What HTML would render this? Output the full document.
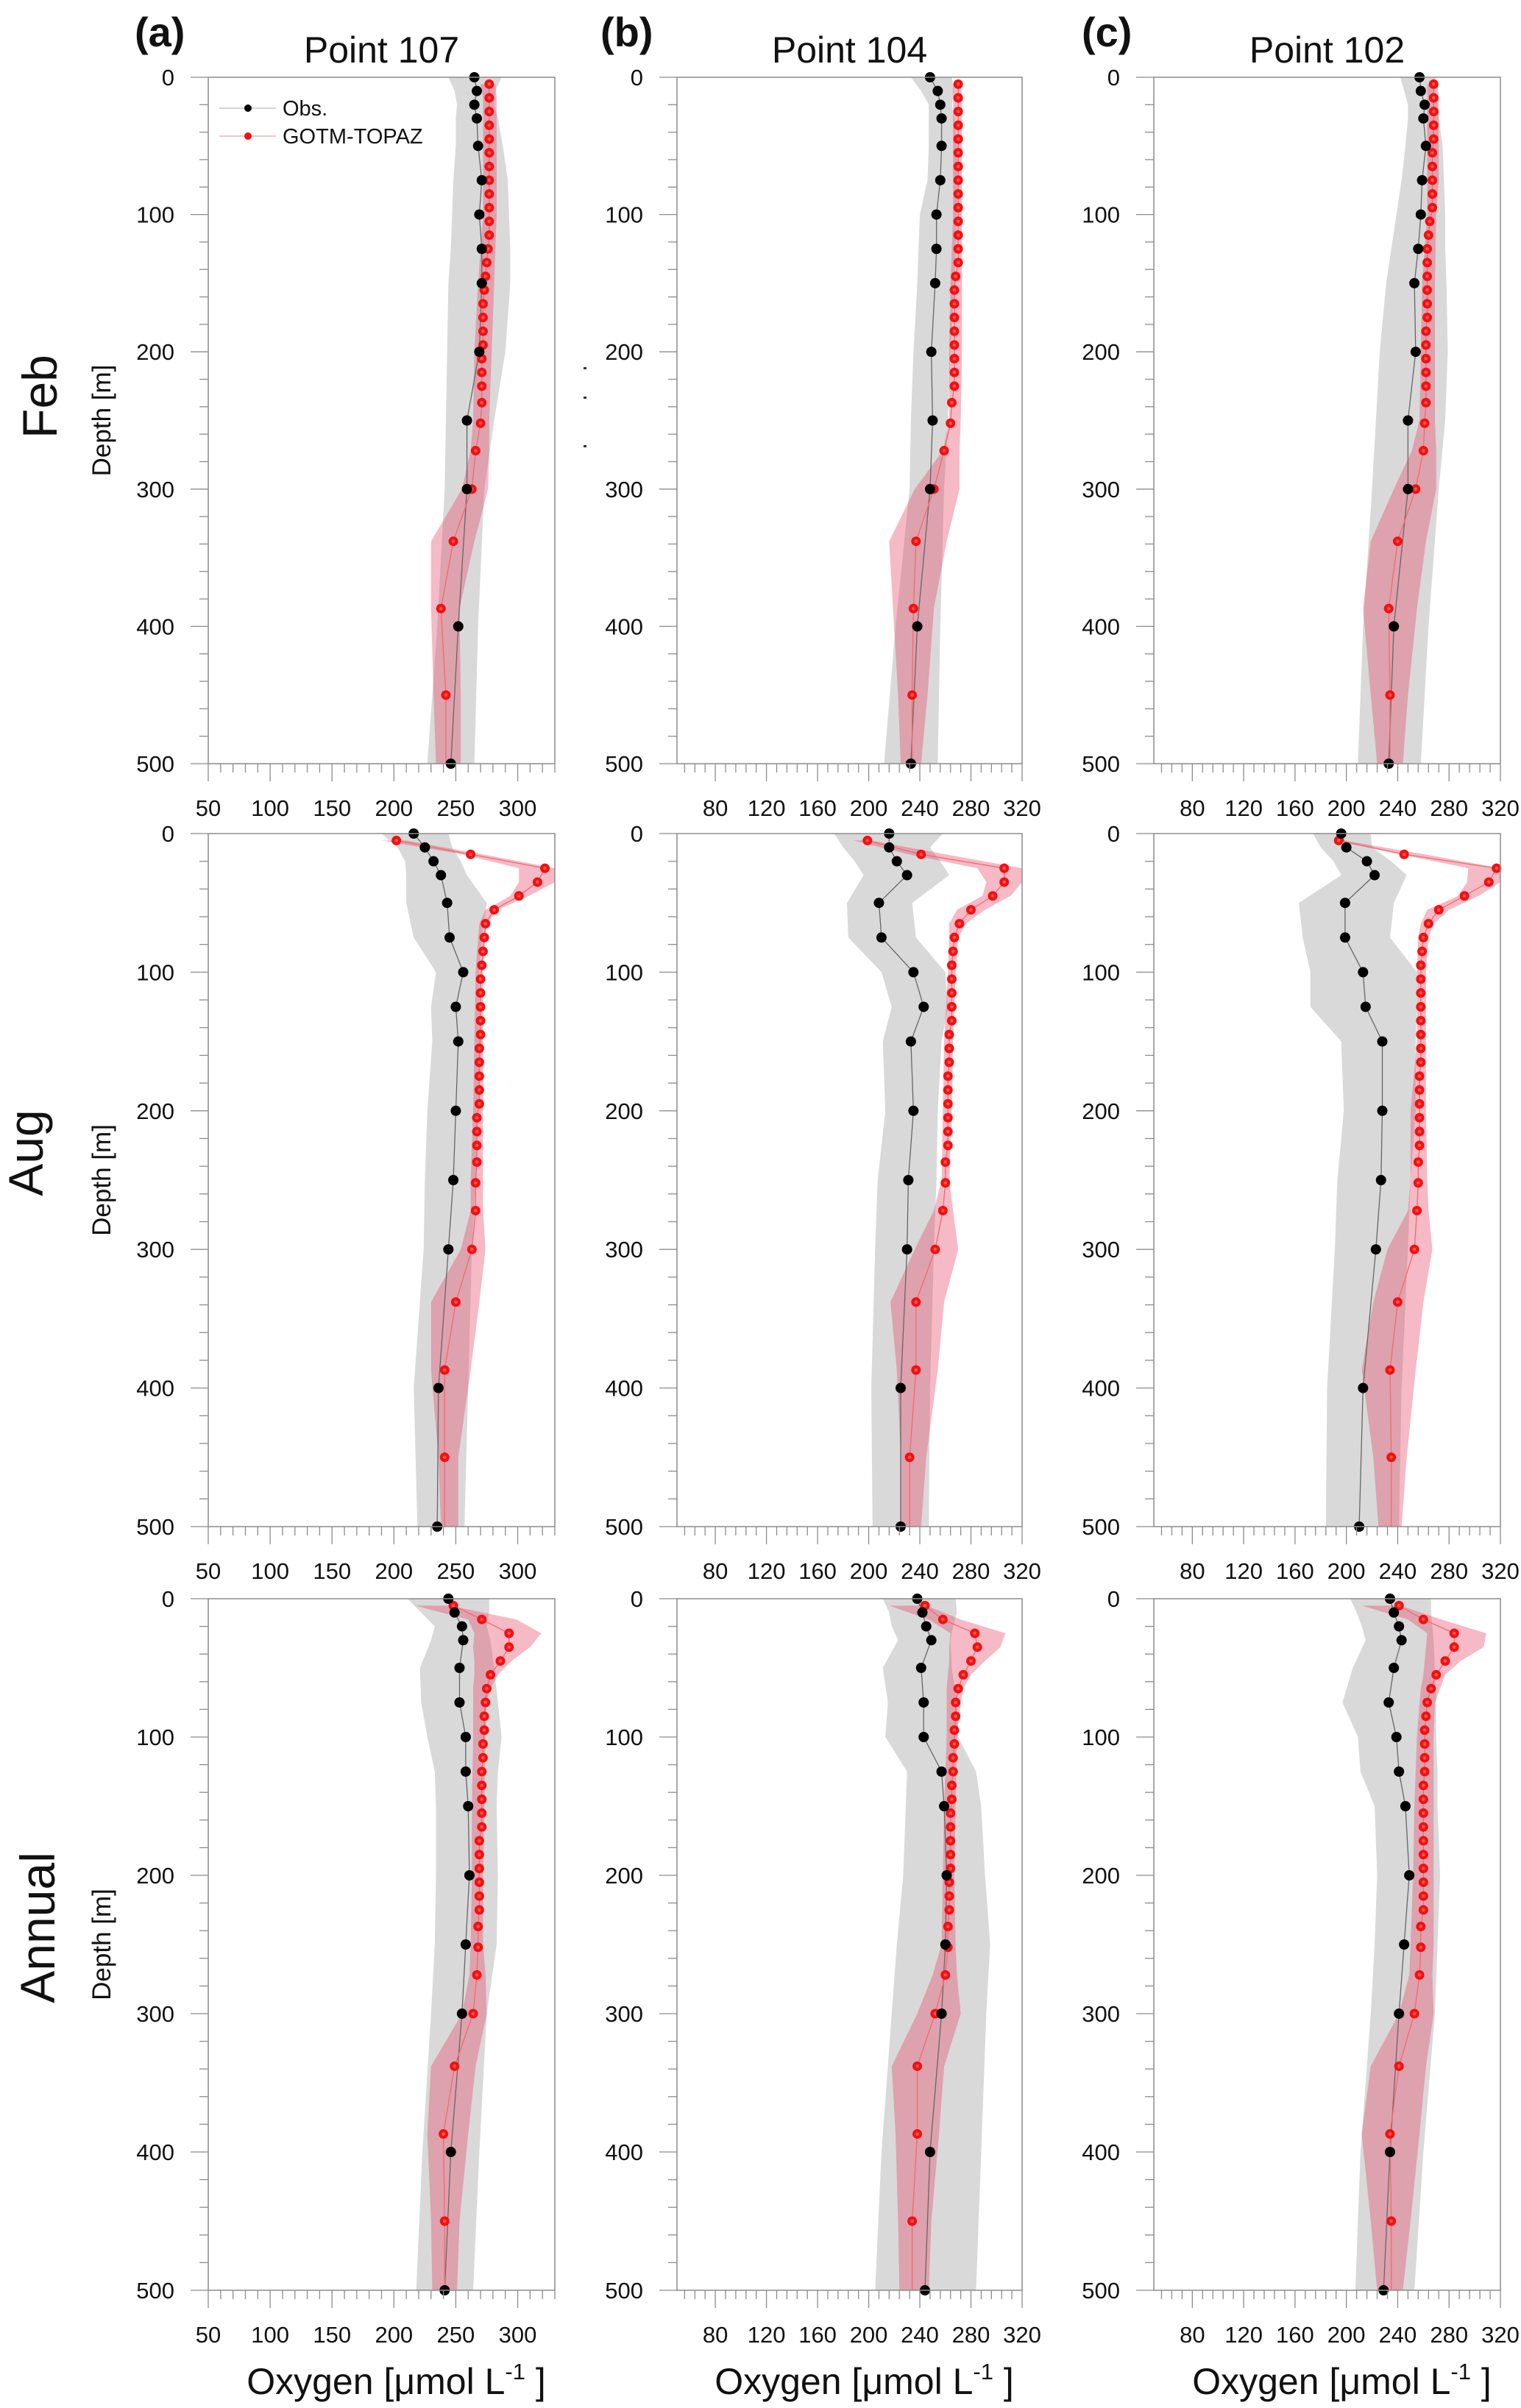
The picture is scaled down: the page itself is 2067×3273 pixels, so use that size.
<!DOCTYPE html>
<html><head><meta charset="utf-8"><title>Oxygen profiles</title>
<style>
html,body{margin:0;padding:0;background:#fff;}
svg{display:block;font-family:"Liberation Sans",Arial,sans-serif;}
</style></head>
<body>
<svg id="fig" xmlns="http://www.w3.org/2000/svg" width="2067" height="3273" viewBox="0 0 2067 3273">
<rect x="0" y="0" width="2067" height="3273" fill="#fff"/>
</svg>
<script>
// ---- depth levels ----
const obsDepths = [0,10,20,30,50,75,100,125,150,200,250,300,400,500];
const modDepths = [5,15,25,35,45,55,65,75,85,95,105,115,125,135,145,155,165,175,185,195,205,215,225,237,252,272,300,338,387,450];
const bandDepths = [5,15,25,35,45,55,65,75,100,150,200,250,272,300,338,387,450,500];
const depthTicks = [0,100,200,300,400,500];
const xTicksA = [50,100,150,200,250,300];
const xTicksBC = [80,120,160,200,240,280,320];
const panelTitles = ["Point 107","Point 104","Point 102"];
const panelLetters = ["(a)","(b)","(c)"];
const rowNames = ["Feb","Aug","Annual"];

// ---- Feb ----
const febAObs = [265,267,265,267,268,271,269,271,271,269,259,259,252,246];
const febAObsLo = [244,249,251,250,250,248,247,246,244,243,242,241,235,227];
const febAObsHi = [287,282,281,284,288,292,293,294,294,290,281,273,268,265];
const febAMod = [277,277,277,277,277,277,277,277,277,277,277,277,276,275,274,273,272,272,272,272,271,271,271,271,270,266,263,248,238,242];
const febAModLo = [270,272,272,272,272,272,272,272,272,268,265,264,262,255,230,230,232,234];
const febAModHi = [282,283,283,283,283,283,283,283,283,281,279,277,277,276,265,253,254,254];

const febBObs = [248,254,256,257,257,256,253,253,252,249,250,248,238,233];
const febBObsLo = [233,241,247,247,247,246,240,239,238,235,233,232,221,212];
const febBObsHi = [265,267,265,267,269,270,269,268,267,264,262,259,256,254];
const febBMod = [270,270,270,270,270,270,270,270,270,270,270,270,270,270,268,267,267,267,267,267,267,267,267,265,264,259,251,237,235,234];
const febBModLo = [266,266,266,266,266,266,266,266,266,264,263,263,258,236,216,219,223,225];
const febBModHi = [272,273,273,273,273,273,273,273,273,273,273,272,271,271,261,251,246,241];

const febCObs = [257,258,261,260,262,259,258,256,253,254,248,248,237,233];
const febCObsLo = [242,245,248,248,246,243,239,235,231,226,223,220,213,209];
const febCObsHi = [270,269,271,272,275,276,277,277,278,279,277,272,264,258];
const febCMod = [268,268,268,268,268,267,267,267,267,267,265,264,263,263,263,263,263,263,262,262,262,262,262,262,261,260,254,240,233,234];
const febCModLo = [263,263,263,263,263,263,263,263,263,259,258,257,251,237,219,213,219,224];
const febCModHi = [271,272,272,272,272,272,272,272,270,269,269,269,270,270,262,255,248,244];

// ---- Aug ----
const augAObs = [216,225,232,238,243,245,256,250,252,250,248,244,236,235];
const augAObsLo = [190,203,209,210,210,216,234,230,231,227,225,224,216,219];
const augAObsHi = [244,247,254,259,275,271,269,269,271,268,266,263,260,257];
const augAMod = [202,262,322,316,301,281,274,273,272,271,270,270,270,270,270,269,269,269,269,269,267,267,267,267,266,266,263,250,241,241];
const augAModLo = [190,255,301,301,294,274,269,268,266,265,264,262,262,254,230,230,236,238];
const augAModHi = [210,272,330,330,309,284,275,274,272,272,272,272,272,274,269,262,252,252];

const augBObs = [216,216,222,230,208,210,235,243,233,235,231,230,225,225];
const augBObsLo = [173,180,189,196,183,184,210,218,211,213,207,205,202,203];
const augBObsHi = [258,248,256,263,234,237,260,262,257,254,253,251,248,247];
const augBMod = [199,241,306,306,297,280,271,267,266,265,265,265,265,265,263,263,263,262,262,262,262,262,262,260,260,258,252,237,237,232];
const augBModLo = [188,231,285,292,289,269,263,263,262,259,258,257,251,236,217,222,225,225];
const augBModHi = [202,260,320,320,311,291,276,270,268,266,265,263,266,270,259,254,245,241];

const augCObs = [196,200,216,222,199,199,213,215,228,228,227,223,213,210];
const augCObsLo = [174,180,190,196,163,166,172,172,196,198,193,191,185,184];
const augCObsHi = [219,220,235,247,237,234,255,255,254,254,250,248,243,241];
const augCMod = [194,245,317,311,292,272,264,260,259,258,258,258,258,258,258,258,258,257,257,257,257,257,257,256,256,255,253,240,234,235];
const augCModLo = [190,242,295,294,287,263,258,256,255,255,250,250,248,232,221,212,221,225];
const augCModHi = [198,261,320,320,303,280,268,264,262,262,262,263,264,267,260,254,247,243];

// ---- Annual ----
const annAObs = [244,249,255,256,253,253,258,258,260,261,258,255,246,241];
const annAObsLo = [211,222,233,230,221,222,227,233,234,234,233,230,223,218];
const annAObsHi = [277,277,275,278,281,284,287,284,283,284,283,275,269,264];
const annAMod = [248,271,293,293,286,278,275,274,273,273,272,272,271,271,271,271,271,269,269,269,269,269,269,268,268,267,264,249,240,241];
const annAModLo = [217,260,265,264,265,265,264,264,264,263,263,262,261,255,230,227,230,231];
const annAModHi = [245,299,319,310,295,284,278,275,274,273,272,272,274,275,266,260,253,251];

const annBObs = [238,242,245,249,241,243,243,257,259,261,260,257,248,244];
const annBObsLo = [211,216,218,223,211,215,213,230,229,227,222,218,210,205];
const annBObsHi = [268,269,266,264,265,269,270,284,288,291,295,292,288,284];
const annBMod = [244,258,283,285,280,274,270,268,268,267,267,266,266,265,265,264,264,264,264,264,263,263,263,262,262,260,252,238,238,234];
const annBModLo = [216,247,264,263,263,262,261,261,261,259,258,257,250,238,218,221,223,224];
const annBModHi = [245,272,307,303,291,280,274,272,269,268,267,268,269,272,259,255,249,247];

const annCObs = [234,237,241,243,237,233,239,241,246,249,245,241,234,229];
const annCObsLo = [203,208,212,215,205,197,209,211,222,224,222,219,211,207];
const annCObsHi = [266,266,267,268,269,270,270,271,271,273,271,269,260,253];
const annCMod = [241,260,284,284,277,270,266,263,262,261,261,261,261,260,260,260,260,260,260,260,260,260,260,258,258,257,253,241,234,235];
const annCModLo = [212,248,263,262,261,260,258,257,255,253,252,250,249,241,219,212,219,224];
const annCModHi = [242,274,309,307,289,277,273,269,268,268,268,268,267,268,262,257,250,244];

const panels = [
  [febAObs,febAObsLo,febAObsHi,febAMod,febAModLo,febAModHi],
  [febBObs,febBObsLo,febBObsHi,febBMod,febBModLo,febBModHi],
  [febCObs,febCObsLo,febCObsHi,febCMod,febCModLo,febCModHi],
  [augAObs,augAObsLo,augAObsHi,augAMod,augAModLo,augAModHi],
  [augBObs,augBObsLo,augBObsHi,augBMod,augBModLo,augBModHi],
  [augCObs,augCObsLo,augCObsHi,augCMod,augCModLo,augCModHi],
  [annAObs,annAObsLo,annAObsHi,annAMod,annAModLo,annAModHi],
  [annBObs,annBObsLo,annBObsHi,annBMod,annBModLo,annBModHi],
  [annCObs,annCObsLo,annCObsHi,annCMod,annCModLo,annCModHi]
];

// ---- layout (not data) ----
const NS = "http://www.w3.org/2000/svg";
const svg = document.getElementById('fig');
const colLeft = [283, 920, 1568];
const colWidth = [471, 469, 471];
const colDomain = [[50,330],[50,320],[50,320]];
const rowTop = [105, 1133, 2173];
const rowBottom = [1038, 2075, 3113];

function mk(tag, attrs, parent) {
  const e = document.createElementNS(NS, tag);
  for (const k in attrs) e.setAttribute(k, attrs[k]);
  (parent || svg).appendChild(e);
  return e;
}
function txt(str, attrs, parent) {
  const t = mk('text', attrs, parent);
  t.textContent = str;
  return t;
}

for (let r = 0; r < 3; r++) {
  for (let c = 0; c < 3; c++) {
    const data = panels[r*3+c];
    const L = colLeft[c], W = colWidth[c], T = rowTop[r], B = rowBottom[r];
    const [d0, d1] = colDomain[c];
    const X = v => L + (v - d0) / (d1 - d0) * W;
    const Y = d => T + d / 500 * (B - T);
    const g = mk('g', {});
    
    
    const clipId = 'clip' + r + c;
    const cp = mk('clipPath', {id: clipId}, g);
    mk('rect', {x: L, y: T, width: W, height: B - T}, cp);

    let pts = [];
    obsDepths.forEach((d,i) => pts.push(X(data[2][i]) + ',' + Y(d)));
    for (let i = obsDepths.length-1; i >= 0; i--) pts.push(X(data[1][i]) + ',' + Y(obsDepths[i]));
    const ob = mk('polygon', {points: pts.join(' '), fill: '#d9d9d9', 'clip-path': 'url(#'+clipId+')'}, g);
    
    

    pts = [];
    bandDepths.forEach((d,i) => pts.push(X(data[5][i]) + ',' + Y(d)));
    for (let i = bandDepths.length-1; i >= 0; i--) pts.push(X(data[4][i]) + ',' + Y(bandDepths[i]));
    const mb = mk('polygon', {points: pts.join(' '), fill: 'rgba(232,70,105,0.38)', 'clip-path': 'url(#'+clipId+')'}, g);
    
    

    const ol = mk('polyline', {points: obsDepths.map((d,i)=>X(data[0][i])+','+Y(d)).join(' '), fill:'none', stroke:'#666', 'stroke-width':1.3}, g);
    
    
    const mlPts = modDepths.map((d,i)=>X(data[3][i])+','+Y(d));
    mlPts.push(X(data[3][data[3].length-1]) + ',' + Y(500));
    const ml = mk('polyline', {points: mlPts.join(' '), fill:'none', stroke:'#f26a6a', 'stroke-width':1.3}, g);
    
    

    modDepths.forEach((d,i) => {
      const cx = X(data[3][i]), cy = Y(d);
      const dot = mk('circle', {cx: cx, cy: cy, r: 6.5, fill: '#f21010'}, g);
      
      
      mk('circle', {cx: cx, cy: cy, r: 2.4, fill: '#ff5050'}, g);
    });
    obsDepths.forEach((d,i) => {
      const dot = mk('circle', {cx: X(data[0][i]), cy: Y(d), r: 7, fill: '#000'}, g);
      
      
    });

    const fr = mk('rect', {x: L, y: T, width: W, height: B - T, fill: 'none', stroke: '#8c8c8c', 'stroke-width': 1.5}, g);
    
    

    for (let d = 0; d <= 500; d += 20) {
      const major = d % 100 === 0;
      mk('line', {x1: L - (major ? 24 : 12), x2: L, y1: Y(d), y2: Y(d), stroke: '#8c8c8c', 'stroke-width': 1.3}, g);
    }
    depthTicks.forEach(d => {
      const t = txt(String(d), {x: L - 46, y: Y(d) + 11, 'font-size': 31, 'text-anchor': 'end', fill: '#111'}, g);
      
      
    });
    const ticks = c === 0 ? xTicksA : xTicksBC;
    const minorStep = c === 0 ? 10 : 8;
    const majorStep = c === 0 ? 50 : 40;
    const start = ticks[0] - Math.floor((ticks[0]-d0)/minorStep)*minorStep;
    for (let v = start; v <= d1 + 0.01; v += minorStep) {
      const major = ((v - ticks[0]) % majorStep + majorStep) % majorStep === 0 && v >= ticks[0];
      mk('line', {x1: X(v), x2: X(v), y1: B, y2: B + (major ? 24 : 12), stroke: '#8c8c8c', 'stroke-width': 1.3}, g);
    }
    ticks.forEach(v => {
      const t = txt(String(v), {x: X(v), y: B + 71, 'font-size': 31, 'text-anchor': 'middle', fill: '#111'}, g);
      
      
    });

    if (c === 0) {
      const dt = txt('Depth [m]', {x: 0, y: 0, 'font-size': 35, 'text-anchor': 'middle', fill: '#111',
        transform: 'translate(150,' + ((T+B)/2) + ') rotate(-90)'}, g);
      
      
    }
    if (r === 2) {
      const ot = mk('text', {x: L + W/2 + 20, y: 3254, 'font-size': 50, 'text-anchor': 'middle', fill: '#111'}, g);
      
      
      ot.appendChild(document.createTextNode('Oxygen [\u03bcmol L'));
      const sup = mk('tspan', {'font-size': 31, dy: -20}, ot);
      sup.textContent = '-1';
      const rest = mk('tspan', {dy: 20}, ot);
      rest.textContent = ' ]';
    }
    if (r === 0) {
      const pt = txt(panelTitles[c], {x: L + W/2, y: 85, 'font-size': 50, 'text-anchor': 'middle', fill: '#111'}, g);
      
      
    }
  }
}

[183, 816, 1470].forEach((x, i) => {
  const t = txt(panelLetters[i], {x: x, y: 63, 'font-size': 56, 'font-weight': 'bold', fill: '#111'});
  
  
});
const rowLabelPos = [[77,539],[58,1567],[74,2620]];
rowNames.forEach((n, i) => {
  const t = txt(n, {x: 0, y: 0, 'font-size': 66, 'text-anchor': 'middle', fill: '#111',
    transform: 'translate(' + rowLabelPos[i][0] + ',' + rowLabelPos[i][1] + ') rotate(-90)'});
  
  
});

const lg = mk('g', {});


mk('line', {x1: 298, x2: 375, y1: 147, y2: 147, stroke: '#bbb', 'stroke-width': 1.2}, lg);
mk('circle', {cx: 337, cy: 147, r: 5, fill: '#000'}, lg);
const l1 = txt('Obs.', {x: 384, y: 157, 'font-size': 29, fill: '#111'}, lg);


mk('line', {x1: 298, x2: 375, y1: 185, y2: 185, stroke: '#f4a0a0', 'stroke-width': 1.2}, lg);
mk('circle', {cx: 337, cy: 185, r: 5, fill: '#f21010'}, lg);
const l2 = txt('GOTM-TOPAZ', {x: 384, y: 195, 'font-size': 29, fill: '#111'}, lg);



[499, 539, 605].forEach(y => {
  const s = mk('rect', {x: 793, y: y, width: 4, height: 3, fill: '#333'});
  
  
});
</script>
</body></html>
